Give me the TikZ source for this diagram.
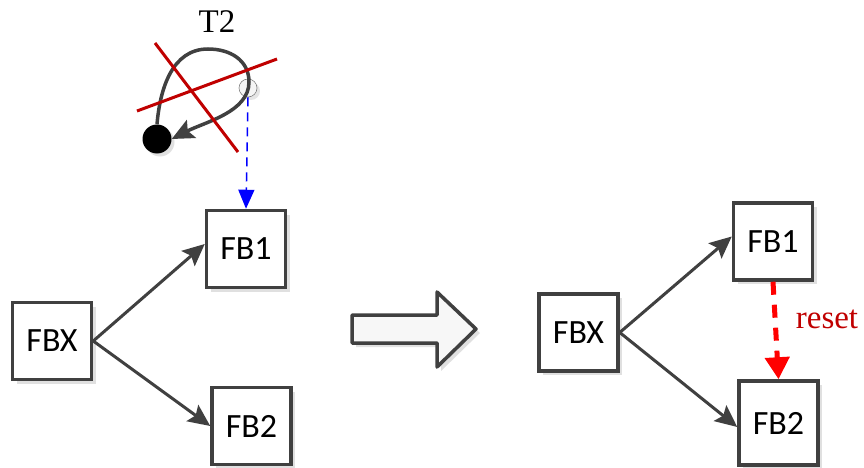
\documentclass[tikz,border=0pt]{standalone}
\usepackage{fontspec}
\setmainfont{Liberation Serif}
\newfontfamily\blockfont{Carlito}
\usetikzlibrary{arrows.meta,shadows}
\definecolor{edgegray}{HTML}{404040}
\definecolor{crossred}{HTML}{C00000}

\begin{document}
\begin{tikzpicture}[x=1pt,y=-1pt,
    fb/.style={draw=edgegray, line width=3.5pt, fill=white, minimum width=79pt, minimum height=77pt,
               font=\blockfont\fontsize{34}{38}\selectfont,
               drop shadow={shadow xshift=4pt, shadow yshift=-4pt, fill=black!12, opacity=1}},
    link/.style={draw=edgegray, line width=3pt, -{Stealth[length=22pt,width=20pt,inset=4pt]}},
    lbl/.style={font=\fontsize{33}{36}\selectfont}]
       \useasboundingbox (0,0) rectangle (864,468);

       % timer T2 with its loop
       \node[lbl] (t2) at (217,22) {T2};
       \node[circle, fill=black, minimum size=29pt, inner sep=0pt,
             drop shadow={shadow xshift=3pt, shadow yshift=-3pt, fill=black!12, opacity=1}] (dot) at (157,139) {};
       \node[circle, draw=gray, fill=gray!8, line width=0.6pt, minimum size=18pt, inner sep=0pt,
             drop shadow={shadow xshift=3pt, shadow yshift=-3pt, fill=black!10, opacity=1}] (tap) at (248,88) {};
       \draw[edgegray, line width=3.5pt, -{Stealth[length=22pt,width=20pt,inset=4pt]}]
             (dot.north) .. controls (160,89) and (172,49) .. (208,49)
             .. controls (230,49) and (249,60) .. (249,82)
             .. controls (249,112) and (205,122) .. (dot.east);
       \draw[crossred, line width=3pt] (155,43) -- (238,152);
       \draw[crossred, line width=3pt] (137,111) -- (277,59);

       % left: before
       \node[fb] (fbx) at (52,341) {FBX};
       \node[fb] (fb1) at (246,249) {FB1};
       \node[fb] (fb2) at (251.5,426) {FB2};
       \draw[link] (fbx.east) -- ([yshift=5pt]fb1.west);
       \draw[link] (fbx.east) -- (fb2.west);
       \draw[blue, line width=1.5pt, dash pattern=on 9pt off 6pt, -{Triangle[length=19pt,width=16pt]}]
             (tap.south) -- (fb1.north);

       % big transition arrow
       \draw[draw=edgegray, fill=black!3, line width=3.5pt, line join=round,
             drop shadow={shadow xshift=4pt, shadow yshift=-4pt, fill=black!12, opacity=1}]
             (352,315) -- (437,315) -- (437,292) -- (476,329) -- (437,367) -- (437,343) -- (352,343) -- cycle;

       % right: after
       \node[fb] (rfbx) at (578.5,332.5) {FBX};
       \node[fb] (rfb1) at (773,241.5) {FB1};
       \node[fb, minimum height=84pt] (rfb2) at (778.5,423) {FB2};
       \draw[link] (rfbx.east) -- ([yshift=5pt]rfb1.west);
       \draw[link] (rfbx.east) -- ([yshift=-4pt]rfb2.west);
       \draw[red, line width=5pt, dash pattern=on 13pt off 10pt, -{Triangle[length=22pt,width=24pt]}]
             (rfb1.south) -- (rfb2.north);
       \node[lbl, text=crossred] (rst) at (827,319) {reset};
      \end{tikzpicture}
\end{document}
